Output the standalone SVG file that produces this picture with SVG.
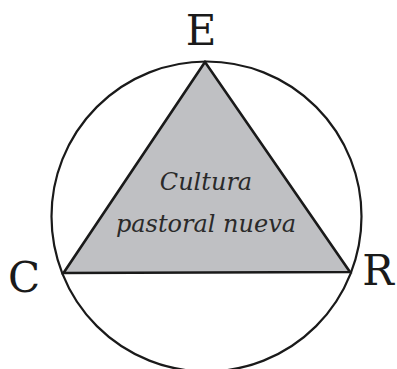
<svg xmlns="http://www.w3.org/2000/svg" width="397" height="369" viewBox="0 0 397 369">
<style>
.lbl{font-family:"DejaVu Serif","Liberation Serif",serif;font-size:42px;fill:#1a1a1a;text-anchor:middle}
.in{font-family:"DejaVu Serif","Liberation Serif",serif;font-style:italic;font-size:24px;fill:#2a2a2a;text-anchor:middle}
</style>
<rect width="397" height="369" fill="#fff"/>
<g id="circle"><circle cx="206.5" cy="216.5" r="155" fill="none" stroke="#1a1a1a" stroke-width="2.2"/></g>
<g id="triangle">
<polygon points="205,62 63.5,273 350,272" fill="#bfc0c3" stroke="#1a1a1a" stroke-width="2.6" stroke-linejoin="miter"/>
<text class="in" x="206" y="190">Cultura</text>
<text class="in" x="206" y="232">pastoral nueva</text>
</g>
<g id="E"><text class="lbl" x="201" y="45">E</text></g>
<g id="C"><text class="lbl" x="24" y="292">C</text></g>
<g id="R"><text class="lbl" x="378" y="285">R</text></g>
</svg>
